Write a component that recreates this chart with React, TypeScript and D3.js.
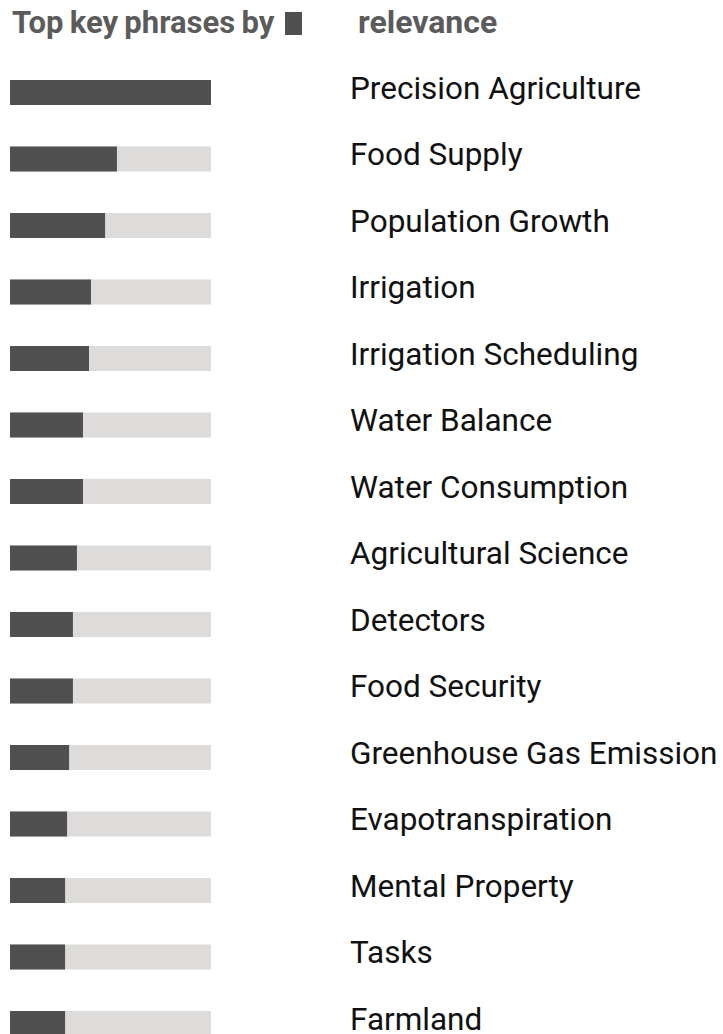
import React from "react";
import * as d3 from "d3";

const phrases = [
  "Precision Agriculture",
  "Food Supply",
  "Population Growth",
  "Irrigation",
  "Irrigation Scheduling",
  "Water Balance",
  "Water Consumption",
  "Agricultural Science",
  "Detectors",
  "Food Security",
  "Greenhouse Gas Emission",
  "Evapotranspiration",
  "Mental Property",
  "Tasks",
  "Farmland",
];
const relevance = [100, 53.2, 47.3, 40.3, 39.3, 36.3, 36.3, 33.3, 31.3, 31.3, 29.4, 28.4, 27.4, 27.4, 27.4];
const titleParts = ["Top key phrases by", "relevance"];

export default function App() {
  const W = 723, H = 1034;
  const x = d3.scaleLinear().domain([0, 100]).range([0, 201]);
  const y = d3.scaleLinear().domain([0, phrases.length - 1]).range([80, 1011]);
  const barH = 25;
  return (
    <svg width={W} height={H} style={{ position: "absolute", left: 0, top: 0 }}>
      <text x={12} y={33} fontFamily="Roboto" fontWeight="bold" fontSize={31} wordSpacing={-1.5} fill="#5b5b5b">{titleParts[0]}</text>
      <rect x={285} y={12} width={17} height={23} fill="#505050" />
      <text x={358} y={33} fontFamily="Roboto" fontWeight="bold" fontSize={32} fill="#5b5b5b">{titleParts[1]}</text>
      {phrases.map((p, i) => (
        <g key={p}>
          <rect x={10} y={y(i)} width={x(100)} height={barH} fill="#dedbdb" />
          <rect x={10} y={y(i)} width={x(relevance[i])} height={barH} fill="#505050" />
          <text x={350} y={y(i) + 18.5} fontFamily="Roboto" fontSize={31.5} fill="#111">{p}</text>
        </g>
      ))}
    </svg>
  );
}
